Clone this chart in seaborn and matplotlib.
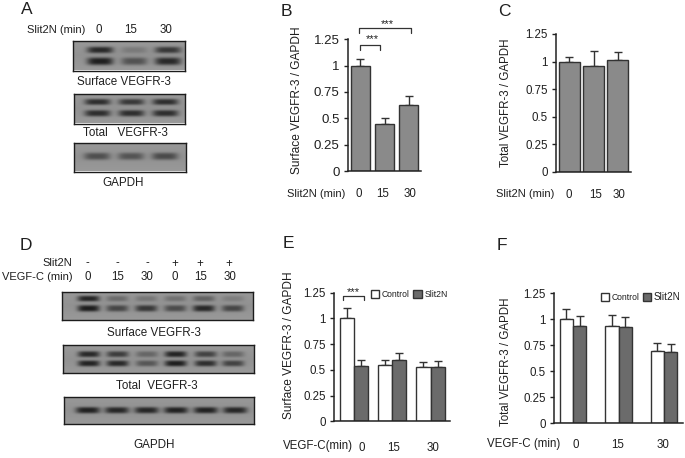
import numpy as np
import pandas as pd
import seaborn as sns
from matplotlib import pyplot as plt

W, H = 685, 458

# values
minutes = ['0', '15', '30']
surface_a = [1.0, 0.45, 0.63]
surface_a_err = [0.06, 0.05, 0.08]
total_a = [1.0, 0.96, 1.01]
total_a_err = [0.04, 0.14, 0.08]

surface_ctrl = [1.0, 0.55, 0.53]
surface_ctrl_err = [0.10, 0.05, 0.05]
surface_slit = [0.54, 0.60, 0.53]
surface_slit_err = [0.06, 0.06, 0.055]
total_ctrl = [1.0, 0.94, 0.70]
total_ctrl_err = [0.10, 0.10, 0.07]
total_slit = [0.94, 0.93, 0.69]
total_slit_err = [0.09, 0.09, 0.07]

y_ticks = [0, 0.25, 0.5, 0.75, 1, 1.25]
y_labels = ['0', '0.25', '0.5', '0.75', '1', '1.25']

# band darkness per lane
blot_a_surface_top = [0.42, 0.10, 0.36]
blot_a_surface_low = [0.46, 0.26, 0.42]
blot_a_total_top = [0.40, 0.36, 0.40]
blot_a_total_low = [0.40, 0.40, 0.40]
blot_a_gapdh = [0.26, 0.24, 0.28]
blot_d_surface_top = [0.44, 0.16, 0.12, 0.14, 0.20, 0.09]
blot_d_surface_low = [0.46, 0.30, 0.36, 0.28, 0.42, 0.30]
blot_d_total_top = [0.42, 0.34, 0.18, 0.44, 0.32, 0.18]
blot_d_total_low = [0.44, 0.42, 0.24, 0.46, 0.40, 0.32]
blot_d_gapdh = [0.44, 0.42, 0.42, 0.44, 0.44, 0.42]

slit_signs = ['-', '-', '-', '+', '+', '+']
vegf_minutes = ['0', '15', '30', '0', '15', '30']

sns.set_theme(style='white')
plt.rcParams['font.family'] = ['Liberation Sans', 'DejaVu Sans']
TXT = '#1f1f1f'
GRAY = '#8a8a8a'
DARK = '#6b6b6b'
EDGE = '#333333'


def box(x0, y0, x1, y1):
    return [x0 / W, 1 - y1 / H, (x1 - x0) / W, (y1 - y0) / H]


fig = plt.figure(figsize=(W / 100, H / 100), dpi=100)
page = fig.add_axes([0, 0, 1, 1], zorder=0)
page.set_xlim(0, W)
page.set_ylim(H, 0)
page.axis('off')


def label(x, y, s, size=8.3, ha='center', **kw):
    page.text(x, y, s, fontsize=size, ha=ha, va='center', color=TXT, **kw)


def blot(x0, y0, x1, y1, lanes, half, rows, bg=0.57):
    "un blot: fond gris + bandes"
    ax = fig.add_axes(box(x0, y0, x1, y1), zorder=1)
    xx, yy = np.meshgrid(np.linspace(x0, x1, int(x1 - x0) * 3),
                         np.linspace(y0, y1, int(y1 - y0) * 3))
    img = np.full(xx.shape, bg) + 0.06 * np.abs(yy - (y0 + y1) / 2) / (y1 - y0)
    for row_y, dark, sy in rows:
        for lane, d in zip(lanes, dark):
            img -= d * np.exp(-((xx - lane) / half) ** 4) * np.exp(-np.abs((yy - row_y) / sy) ** 3)
    ax.imshow(np.clip(img, 0, 1), cmap='gray', vmin=0, vmax=1, aspect='auto', interpolation='bilinear')
    ax.set_xticks([])
    ax.set_yticks([])
    for s in ax.spines.values():
        s.set_visible(True)
        s.set_color('#1c1c1c')
        s.set_linewidth(1)


def style_axes(ax, ticks, tick_size):
    ax.set_ylim(0, 1.25)
    ax.set_yticks(y_ticks)
    ax.set_yticklabels(y_labels, fontsize=tick_size, color=TXT)
    ax.set_xticks(ticks)
    ax.set_xticklabels(minutes, fontsize=8.3, color=TXT)
    ax.set_xlabel('')
    ax.set_ylabel('')
    ax.tick_params(axis='y', left=True, length=3, width=1, color='#222222', pad=3)
    ax.tick_params(axis='x', bottom=False)
    sns.despine(ax=ax)
    for s in ['left', 'bottom']:
        ax.spines[s].set_color('#222222')
        ax.spines[s].set_linewidth(1.1)
    ax.patch.set_alpha(0)


def add_errs(ax, container, errs):
    xs = [p.get_x() + p.get_width() / 2 for p in container]
    ys = [p.get_height() for p in container]
    ax.errorbar(xs, ys, yerr=[np.zeros(len(errs)), errs], fmt='none', ecolor=EDGE,
                elinewidth=1, capsize=3, capthick=1, zorder=1.5)


def single_panel(rect, values, errs, width, ticks, tick_size=8.3, pad=7):
    ax = fig.add_axes(box(*rect), zorder=2)
    df = pd.DataFrame({'minutes': minutes, 'ratio': values})
    sns.barplot(data=df, x='minutes', y='ratio', color=GRAY, saturation=1, width=width,
                errorbar=None, edgecolor=EDGE, linewidth=1, ax=ax, zorder=2)
    add_errs(ax, ax.containers[0], errs)
    style_axes(ax, ticks, tick_size)
    ax.tick_params(axis='x', pad=pad)
    return ax


def double_panel(rect, ctrl, ctrl_err, slit, slit_err, width, ticks, legend_box, spacing, pad):
    ax = fig.add_axes(box(*rect), zorder=2)
    df = pd.DataFrame({'minutes': minutes * 2, 'ratio': ctrl + slit,
                       'group': ['Control'] * 3 + ['Slit2N'] * 3})
    sns.barplot(data=df, x='minutes', y='ratio', hue='group', palette=['white', DARK],
                saturation=1, width=width, gap=0, errorbar=None, edgecolor=EDGE, linewidth=1,
                ax=ax, zorder=2, legend=False)
    add_errs(ax, ax.containers[0], ctrl_err)
    add_errs(ax, ax.containers[1], slit_err)
    style_axes(ax, ticks, 8.3)
    ax.tick_params(axis='x', pad=pad)
    leg = ax.legend(ax.containers, ['Control', 'Slit2N'], ncol=2, frameon=False, fontsize=6.2,
                    handlelength=0.95, handleheight=1.1, handletextpad=0.3, columnspacing=spacing,
                    borderpad=0, borderaxespad=0, loc='center left',
                    bbox_to_anchor=(legend_box[0] / W, 1 - legend_box[1] / H),
                    bbox_transform=fig.transFigure)
    for t in leg.get_texts():
        t.set_color(TXT)
    return ax


# -------- blots ---------
label(56, 30, 'Slit2N (min)', size=8)
for x, m in zip([98.7, 131, 166], minutes):
    label(x, 30, m)
blot(73, 41, 184.5, 70.5, [100, 134, 167.7], 13, [(50.7, blot_a_surface_top, 3.2), (62, blot_a_surface_low, 3.8)])
label(123.7, 81.7, 'Surface VEGFR-3', size=8.4)
blot(73.5, 94, 185.5, 123.5, [97, 131, 165], 13, [(102.7, blot_a_total_top, 3), (114, blot_a_total_low, 3.2)])
label(125.7, 132.7, 'Total   VEGFR-3', size=8.4)
blot(74, 143, 186, 171.5, [97, 131, 165], 13, [(157, blot_a_gapdh, 3.6)])
label(123, 182.7, 'GAPDH', size=8.4)

label(72.7, 263.3, 'Slit2N', size=8, ha='right')
label(72.7, 276.7, 'VEGF-C (min)', size=8, ha='right')
for x, s in zip([87, 117, 147, 174.7, 200.3, 229.3], slit_signs):
    label(x, 263.5, s)
for x, m in zip([88, 117.7, 147, 175, 201, 230], vegf_minutes):
    label(x, 276.7, m)
blot(61.5, 291.7, 253.3, 320, [88, 116.7, 145.7, 174.7, 203.3, 232.3], 11,
     [(299, blot_d_surface_top, 2.8), (308.7, blot_d_surface_low, 3.2)])
label(154, 332.7, 'Surface VEGFR-3', size=8.4)
blot(63.3, 345, 253.7, 372.7, [89, 117.7, 147, 175.7, 205.7, 233], 11,
     [(354, blot_d_total_top, 3), (363.3, blot_d_total_low, 3)])
label(156.7, 385.7, 'Total  VEGFR-3', size=8.4)
blot(64.3, 396.7, 253.7, 424.3, [88, 117, 146.7, 176, 205.7, 235], 12, [(410.7, blot_d_gapdh, 3.2)])
label(153.7, 445, 'GAPDH', size=8.4)

# -------- bars ---------
ax_b = single_panel((348, 39.3, 421, 171), surface_a, surface_a_err, 0.76, [-0.08, 0.93, 2.07], tick_size=9.5, pad=6.5)
ax_c = single_panel((556, 34, 631, 172), total_a, total_a_err, 0.84, [-0.03, 1.08, 2.05], pad=6)
ax_e = double_panel((334.3, 292.7, 450, 421.3), surface_ctrl, surface_ctrl_err, surface_slit, surface_slit_err,
                    0.74, [0.22, 1.05, 2.06], (370.5, 294.5), 0.5, pad=9)
ax_f = double_panel((554, 293.3, 683, 423.3), total_ctrl, total_ctrl_err, total_slit, total_slit_err,
                    0.585, [0.05, 0.98, 1.97], (600.5, 297), 0.45, pad=5.5)
ax_f.get_legend().get_texts()[1].set_fontsize(7.2)

# significance brackets
for ax, x0, x1, y0, y1 in [(ax_b, 0, 0.83, 1.148, 1.20), (ax_b, -0.05, 2.1, 1.306, 1.354), (ax_e, -0.28, 0.26, 1.18, 1.22)]:
    ax.plot([x0, x0, x1, x1], [y0, y1, y1, y0], color='#333333', lw=0.9, clip_on=False)
label(372.7, 39, '***', size=8)
label(387.3, 24, '***', size=8)
label(353.3, 292, '***', size=8)

label(316.3, 194, 'Slit2N (min)', size=8)
label(525.5, 194, 'Slit2N (min)', size=8)
label(317.5, 446, 'VEGF-C(min)')
label(524, 444, 'VEGF-C (min)')
label(297.3, 100, 'Surface VEGFR-3 / GAPDH', size=8.6, rotation=90)
label(506, 102.5, 'Total VEGFR-3 / GAPDH', rotation=90)
label(289.3, 344.7, 'Surface VEGFR-3 / GAPDH', size=8.6, rotation=90)
label(506, 362, 'Total VEGFR-3 / GAPDH', rotation=90)

for x, y, s in [(27, 9, 'A'), (286.7, 12, 'B'), (504, 12, 'C'), (26, 245, 'D'), (288, 243, 'E'), (501.7, 245, 'F')]:
    label(x, y, s, size=12.5)

fig.savefig('out.png', dpi=100, facecolor='white')
